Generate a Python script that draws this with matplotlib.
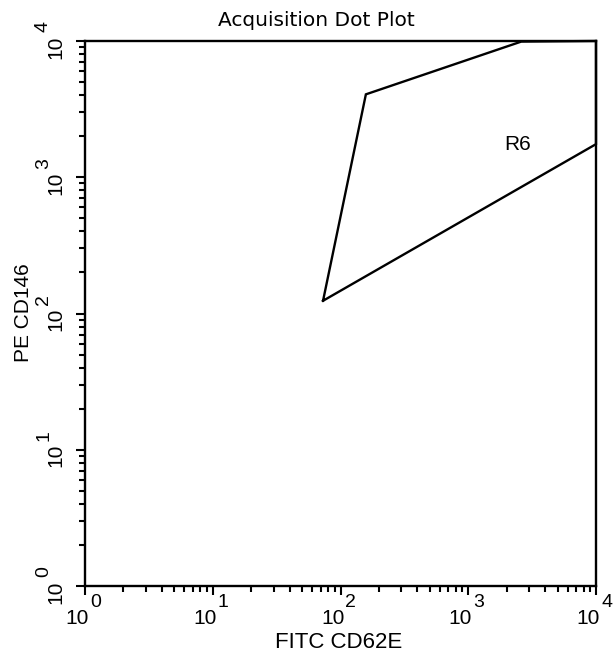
import matplotlib
matplotlib.use("Agg")
import matplotlib.pyplot as plt
import matplotlib.transforms as mtransforms
from matplotlib.ticker import LogLocator, NullFormatter

# gate R6 vertices (FITC CD62E, PE CD146)
gate_x = [73, 158, 2600, 10000, 10000, 73]
gate_y = [124, 4060, 9900, 10000, 1750, 124]
gate_name = "R6"
gate_label_pos = (2450, 1725)

decades = [0, 1, 2, 3, 4]
title = "Acquisition Dot Plot"
x_label = "FITC CD62E"
y_label = "PE CD146"

sans = ["Liberation Sans", "DejaVu Sans"]

W, H, DPI = 613, 655, 100
fig = plt.figure(figsize=(W / DPI, H / DPI), dpi=DPI)
ax = fig.add_axes([85 / W, (H - 586) / H, 511 / W, 545 / H])

ax.set_xscale("log")
ax.set_yscale("log")
ax.set_xlim(1, 1e4)
ax.set_ylim(1, 1e4)

for side in ax.spines.values():
    side.set_linewidth(1.7)

for axis in (ax.xaxis, ax.yaxis):
    axis.set_major_locator(LogLocator(base=10, numticks=10))
    axis.set_minor_locator(LogLocator(base=10, subs=range(2, 10), numticks=10))
    axis.set_minor_formatter(NullFormatter())
ax.tick_params(which="major", direction="out", length=6.5, width=1.5,
               labelbottom=False, labelleft=False)
ax.tick_params(which="minor", direction="out", length=4.5, width=1.5)

# gate polygon
ax.plot(gate_x, gate_y, color="black", linewidth=1.7, clip_on=False,
        solid_joinstyle="miter")
ax.text(gate_label_pos[0], gate_label_pos[1], gate_name, ha="center",
        va="center", fontsize=15, family=sans)


def px(dx, dy):
    # pixel offset (y up) as a transform
    return mtransforms.ScaledTranslation(dx / DPI, dy / DPI, fig.dpi_scale_trans)


# tick labels drawn as "10" plus a near full-size exponent, like the acquisition software
for d in decades:
    xt = ax.get_xaxis_transform()
    ax.text(10 ** d, 0, "10", transform=xt + px(4, -23), ha="right", va="top",
            fontsize=15, family=sans, clip_on=False)
    ax.text(10 ** d, 0, str(d), transform=xt + px(5, -8), ha="left", va="top",
            fontsize=14, family=sans, clip_on=False)

    yt = ax.get_yaxis_transform()
    ax.text(0, 10 ** d, "10", transform=yt + px(-20, -6), ha="right", va="center",
            rotation=90, fontsize=15, family=sans, clip_on=False)
    ax.text(0, 10 ** d, str(d), transform=yt + px(-33, 14), ha="right", va="center",
            rotation=90, fontsize=14, family=sans, clip_on=False)

fig.text(316 / W, 1 - 21 / H, title, ha="center", va="center", fontsize=14.5,
         family=["DejaVu Sans"])
fig.text(339 / W, 1 - 642 / H, x_label, ha="center", va="center", fontsize=16,
         family=sans)
fig.text(24 / W, 1 - 313 / H, y_label, ha="center", va="center", fontsize=15,
         rotation=90, family=sans)

fig.savefig("out.png", dpi=DPI)
plt.close(fig)
